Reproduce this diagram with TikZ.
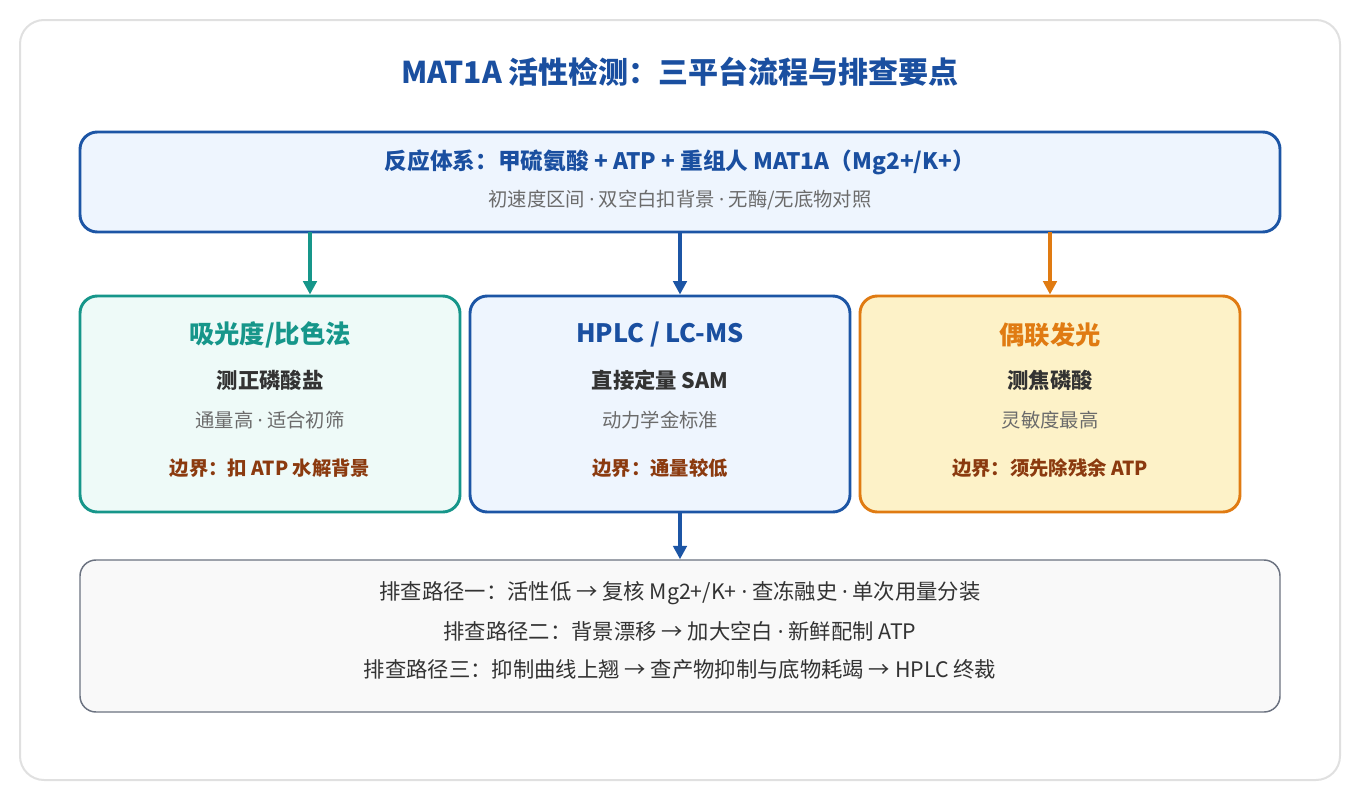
\documentclass[tikz,border=0pt]{standalone}
\usepackage{fontspec}
\setmainfont{Noto Sans CJK SC}
\newfontfamily\latinfont{Noto Sans}
\usetikzlibrary{positioning,arrows.meta}
\definecolor{titleblue}{HTML}{1A4FA0}
\definecolor{boxblue}{HTML}{1C55A5}
\definecolor{fillblue}{HTML}{EEF5FE}
\definecolor{teal}{HTML}{16968A}
\definecolor{fillteal}{HTML}{EEFAF8}
\definecolor{orange}{HTML}{E07B12}
\definecolor{fillorange}{HTML}{FDF2C8}
\definecolor{brown}{HTML}{8B3A0F}
\definecolor{textgray}{HTML}{6B6B6B}
\definecolor{darktext}{HTML}{333333}
\definecolor{edgegray}{HTML}{6B7280}
\newcommand{\fs}[1]{\fontsize{#1}{#1}\selectfont}
\newcommand{\dt}{{\latinfont ·}}
\tikzset{
  card/.style={draw, rounded corners=13pt, line width=2.2pt, minimum width=285pt, minimum height=162pt},
  flow/.style={line width=2.8pt, -{Triangle[length=10pt,width=10pt]}},
  head/.style={font=\fs{19}\bfseries},
  sub/.style={font=\fs{16}\bfseries, text=darktext},
  note/.style={font=\fs{14.5}, text=textgray},
  bound/.style={font=\fs{14.5}\bfseries, text=brown}
}
\begin{document}
\begin{tikzpicture}[x=0.75pt, y=-0.75pt]
  \useasboundingbox (0,0) rectangle (1360,800);
  \draw[draw=black!12, line width=1.5pt, rounded corners=18pt, fill=white] (20,20) rectangle (1340,780);
  \node[font=\fs{22.5}\bfseries, text=titleblue] (title) at (680,72) {MAT1A 活性检测：三平台流程与排查要点};

  % reaction system
  \node[card, draw=boxblue, fill=fillblue, minimum width=900pt, minimum height=75pt] (top) at (680,182) {};
  \node[font=\fs{17}\bfseries, text=titleblue] (toptext) at (680,162) {反应体系：甲硫氨酸 + ATP + 重组人 MAT1A（Mg2+/K+）};
  \node[note] (topnote) at (680,200) {初速度区间 \dt{} 双空白扣背景 \dt{} 无酶/无底物对照};

  % three platforms
  \node[card, draw=teal, fill=fillteal] (colr) at (270,404) {};
  \node[card, draw=boxblue, fill=fillblue] (hplc) at (660,404) {};
  \node[card, draw=orange, fill=fillorange] (lumi) at (1050,404) {};

  \node[head, text=teal] (colrA) at (270,335) {吸光度/比色法};
  \node[sub] (colrB) at (270,380) {测正磷酸盐};
  \node[note] (colrC) at (270,420) {通量高 \dt{} 适合初筛};
  \node[bound] (colrD) at (270,468) {边界：扣 ATP 水解背景};

  \node[head, text=titleblue] (hplcA) at (660,335) {HPLC / LC-MS};
  \node[sub] (hplcB) at (660,380) {直接定量 SAM};
  \node[note] (hplcC) at (660,420) {动力学金标准};
  \node[bound] (hplcD) at (660,468) {边界：通量较低};

  \node[head, text=orange] (lumiA) at (1050,335) {偶联发光};
  \node[sub] (lumiB) at (1050,380) {测焦磷酸};
  \node[note] (lumiC) at (1050,420) {灵敏度最高};
  \node[bound] (lumiD) at (1050,468) {边界：须先除残余 ATP};

  % troubleshooting
  \node[draw=edgegray, line width=1.1pt, rounded corners=12pt, fill=black!2.5,
        minimum width=900pt, minimum height=114pt] (trbl) at (680,636) {};
  \node[font=\fs{16}, text=darktext, align=center] (trbltext) at (680,630)
    {排查路径一：活性低 → 复核 Mg2+/K+ \dt{} 查冻融史 \dt{} 单次用量分装\\[12pt]
     排查路径二：背景漂移 → 加大空白 \dt{} 新鲜配制 ATP\\[12pt]
     排查路径三：抑制曲线上翘 → 查产物抑制与底物耗竭 → HPLC 终裁};

  \coordinate (c1) at (310,232);
  \coordinate (c2) at (680,232);
  \coordinate (c3) at (1050,232);
  \draw[flow, draw=teal, fill=teal] (c1) -- (c1 |- colr.north);
  \draw[flow, draw=boxblue, fill=boxblue] (c2) -- (c2 |- hplc.north);
  \draw[flow, draw=orange, fill=orange] (c3) -- (c3 |- lumi.north);
  \draw[flow, draw=boxblue, fill=boxblue] (hplc.south -| c2) -- (trbl.north -| c2);
\end{tikzpicture}
\end{document}
